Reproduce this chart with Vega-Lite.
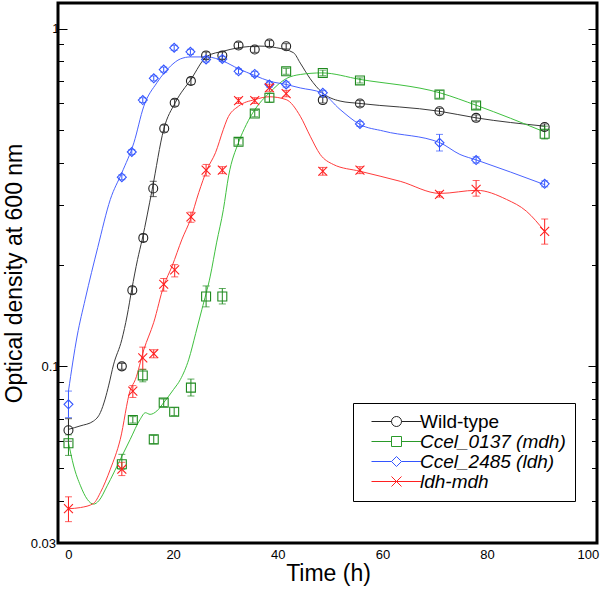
{
  "$schema": "https://vega.github.io/schema/vega-lite/v6.json",
  "width": 539,
  "height": 540,
  "autosize": "none",
  "padding": {"left": 58, "top": 3, "right": 3, "bottom": 48},
  "config": {
    "view": {"stroke": "black", "strokeWidth": 3},
    "font": "Liberation Sans",
    "axis": {"grid": false}
  },
  "datasets": {
    "pts": [
      {"s": "Wild-type", "t": 0, "od": 0.0647, "lo": 0.060, "hi": 0.070},
      {"s": "Wild-type", "t": 10.2, "od": 0.100, "lo": 0.098, "hi": 0.102},
      {"s": "Wild-type", "t": 12.2, "od": 0.168, "lo": 0.164, "hi": 0.172},
      {"s": "Wild-type", "t": 14.3, "od": 0.240, "lo": 0.234, "hi": 0.246},
      {"s": "Wild-type", "t": 16.2, "od": 0.336, "lo": 0.318, "hi": 0.353},
      {"s": "Wild-type", "t": 18.3, "od": 0.506, "lo": 0.494, "hi": 0.518},
      {"s": "Wild-type", "t": 20.3, "od": 0.603, "lo": 0.589, "hi": 0.617},
      {"s": "Wild-type", "t": 23.4, "od": 0.699, "lo": 0.683, "hi": 0.715},
      {"s": "Wild-type", "t": 26.3, "od": 0.832, "lo": 0.812, "hi": 0.852},
      {"s": "Wild-type", "t": 29.4, "od": 0.832, "lo": 0.812, "hi": 0.852},
      {"s": "Wild-type", "t": 32.5, "od": 0.891, "lo": 0.872, "hi": 0.910},
      {"s": "Wild-type", "t": 35.6, "od": 0.867, "lo": 0.850, "hi": 0.884},
      {"s": "Wild-type", "t": 38.4, "od": 0.903, "lo": 0.885, "hi": 0.921},
      {"s": "Wild-type", "t": 41.6, "od": 0.886, "lo": 0.870, "hi": 0.902},
      {"s": "Wild-type", "t": 48.6, "od": 0.614, "lo": 0.602, "hi": 0.626},
      {"s": "Wild-type", "t": 55.7, "od": 0.600, "lo": 0.588, "hi": 0.612},
      {"s": "Wild-type", "t": 70.9, "od": 0.569, "lo": 0.558, "hi": 0.580},
      {"s": "Wild-type", "t": 77.9, "od": 0.544, "lo": 0.533, "hi": 0.555},
      {"s": "Wild-type", "t": 91.0, "od": 0.511, "lo": 0.500, "hi": 0.522},
      {"s": "Ccel_0137 (mdh)", "t": 0, "od": 0.0592, "lo": 0.0545, "hi": 0.0627},
      {"s": "Ccel_0137 (mdh)", "t": 10.2, "od": 0.0513, "lo": 0.0496, "hi": 0.0549},
      {"s": "Ccel_0137 (mdh)", "t": 12.3, "od": 0.0694, "lo": 0.0680, "hi": 0.0710},
      {"s": "Ccel_0137 (mdh)", "t": 14.2, "od": 0.094, "lo": 0.090, "hi": 0.098},
      {"s": "Ccel_0137 (mdh)", "t": 16.3, "od": 0.0608, "lo": 0.0590, "hi": 0.0625},
      {"s": "Ccel_0137 (mdh)", "t": 18.2, "od": 0.0781, "lo": 0.0760, "hi": 0.0800},
      {"s": "Ccel_0137 (mdh)", "t": 20.2, "od": 0.0734, "lo": 0.0715, "hi": 0.0755},
      {"s": "Ccel_0137 (mdh)", "t": 23.4, "od": 0.0865, "lo": 0.0817, "hi": 0.0917},
      {"s": "Ccel_0137 (mdh)", "t": 26.3, "od": 0.161, "lo": 0.150, "hi": 0.173},
      {"s": "Ccel_0137 (mdh)", "t": 29.4, "od": 0.161, "lo": 0.153, "hi": 0.170},
      {"s": "Ccel_0137 (mdh)", "t": 32.5, "od": 0.462, "lo": 0.452, "hi": 0.472},
      {"s": "Ccel_0137 (mdh)", "t": 35.6, "od": 0.560, "lo": 0.548, "hi": 0.572},
      {"s": "Ccel_0137 (mdh)", "t": 38.4, "od": 0.624, "lo": 0.605, "hi": 0.643},
      {"s": "Ccel_0137 (mdh)", "t": 41.6, "od": 0.747, "lo": 0.732, "hi": 0.762},
      {"s": "Ccel_0137 (mdh)", "t": 48.6, "od": 0.739, "lo": 0.725, "hi": 0.753},
      {"s": "Ccel_0137 (mdh)", "t": 55.7, "od": 0.702, "lo": 0.690, "hi": 0.714},
      {"s": "Ccel_0137 (mdh)", "t": 70.9, "od": 0.638, "lo": 0.622, "hi": 0.655},
      {"s": "Ccel_0137 (mdh)", "t": 77.9, "od": 0.592, "lo": 0.578, "hi": 0.606},
      {"s": "Ccel_0137 (mdh)", "t": 91.0, "od": 0.488, "lo": 0.471, "hi": 0.514},
      {"s": "Ccel_2485 (ldh)", "t": 0, "od": 0.0772, "lo": 0.0705, "hi": 0.0845},
      {"s": "Ccel_2485 (ldh)", "t": 10.2, "od": 0.363, "lo": 0.357, "hi": 0.369},
      {"s": "Ccel_2485 (ldh)", "t": 12.1, "od": 0.431, "lo": 0.424, "hi": 0.438},
      {"s": "Ccel_2485 (ldh)", "t": 14.2, "od": 0.614, "lo": 0.604, "hi": 0.624},
      {"s": "Ccel_2485 (ldh)", "t": 16.3, "od": 0.712, "lo": 0.700, "hi": 0.724},
      {"s": "Ccel_2485 (ldh)", "t": 18.2, "od": 0.756, "lo": 0.743, "hi": 0.769},
      {"s": "Ccel_2485 (ldh)", "t": 20.2, "od": 0.877, "lo": 0.862, "hi": 0.892},
      {"s": "Ccel_2485 (ldh)", "t": 23.3, "od": 0.853, "lo": 0.838, "hi": 0.868},
      {"s": "Ccel_2485 (ldh)", "t": 26.3, "od": 0.810, "lo": 0.796, "hi": 0.824},
      {"s": "Ccel_2485 (ldh)", "t": 29.4, "od": 0.813, "lo": 0.799, "hi": 0.827},
      {"s": "Ccel_2485 (ldh)", "t": 32.5, "od": 0.747, "lo": 0.734, "hi": 0.760},
      {"s": "Ccel_2485 (ldh)", "t": 35.6, "od": 0.734, "lo": 0.721, "hi": 0.747},
      {"s": "Ccel_2485 (ldh)", "t": 38.4, "od": 0.683, "lo": 0.671, "hi": 0.695},
      {"s": "Ccel_2485 (ldh)", "t": 41.6, "od": 0.683, "lo": 0.671, "hi": 0.695},
      {"s": "Ccel_2485 (ldh)", "t": 48.6, "od": 0.645, "lo": 0.634, "hi": 0.656},
      {"s": "Ccel_2485 (ldh)", "t": 55.7, "od": 0.522, "lo": 0.513, "hi": 0.531},
      {"s": "Ccel_2485 (ldh)", "t": 70.9, "od": 0.459, "lo": 0.434, "hi": 0.486},
      {"s": "Ccel_2485 (ldh)", "t": 77.9, "od": 0.408, "lo": 0.400, "hi": 0.417},
      {"s": "Ccel_2485 (ldh)", "t": 91.0, "od": 0.347, "lo": 0.340, "hi": 0.354},
      {"s": "ldh-mdh", "t": 0, "od": 0.0379, "lo": 0.0347, "hi": 0.0411},
      {"s": "ldh-mdh", "t": 10.2, "od": 0.0496, "lo": 0.0475, "hi": 0.0520},
      {"s": "ldh-mdh", "t": 12.3, "od": 0.0845, "lo": 0.0809, "hi": 0.0877},
      {"s": "ldh-mdh", "t": 14.2, "od": 0.106, "lo": 0.098, "hi": 0.114},
      {"s": "ldh-mdh", "t": 16.3, "od": 0.109, "lo": 0.106, "hi": 0.112},
      {"s": "ldh-mdh", "t": 18.2, "od": 0.175, "lo": 0.167, "hi": 0.182},
      {"s": "ldh-mdh", "t": 20.3, "od": 0.193, "lo": 0.184, "hi": 0.200},
      {"s": "ldh-mdh", "t": 23.4, "od": 0.277, "lo": 0.267, "hi": 0.286},
      {"s": "ldh-mdh", "t": 26.3, "od": 0.381, "lo": 0.366, "hi": 0.396},
      {"s": "ldh-mdh", "t": 29.4, "od": 0.381, "lo": 0.372, "hi": 0.390},
      {"s": "ldh-mdh", "t": 32.5, "od": 0.612, "lo": 0.600, "hi": 0.624},
      {"s": "ldh-mdh", "t": 35.6, "od": 0.612, "lo": 0.600, "hi": 0.624},
      {"s": "ldh-mdh", "t": 38.4, "od": 0.668, "lo": 0.652, "hi": 0.684},
      {"s": "ldh-mdh", "t": 41.6, "od": 0.642, "lo": 0.628, "hi": 0.656},
      {"s": "ldh-mdh", "t": 48.6, "od": 0.378, "lo": 0.368, "hi": 0.388},
      {"s": "ldh-mdh", "t": 55.7, "od": 0.381, "lo": 0.372, "hi": 0.390},
      {"s": "ldh-mdh", "t": 70.9, "od": 0.323, "lo": 0.317, "hi": 0.329},
      {"s": "ldh-mdh", "t": 77.9, "od": 0.334, "lo": 0.319, "hi": 0.355},
      {"s": "ldh-mdh", "t": 91.0, "od": 0.251, "lo": 0.230, "hi": 0.273}
    ],
    "curve": [
      {"s": "Wild-type", "t": 0, "od": 0.0651},
      {"s": "Wild-type", "t": 2.2, "od": 0.0666},
      {"s": "Wild-type", "t": 4.8, "od": 0.0689},
      {"s": "Wild-type", "t": 6.1, "od": 0.073},
      {"s": "Wild-type", "t": 7.0, "od": 0.080},
      {"s": "Wild-type", "t": 7.7, "od": 0.088},
      {"s": "Wild-type", "t": 8.6, "od": 0.101},
      {"s": "Wild-type", "t": 10.2, "od": 0.120},
      {"s": "Wild-type", "t": 11.2, "od": 0.141},
      {"s": "Wild-type", "t": 12.1, "od": 0.169},
      {"s": "Wild-type", "t": 13.2, "od": 0.207},
      {"s": "Wild-type", "t": 14.1, "od": 0.238},
      {"s": "Wild-type", "t": 16.0, "od": 0.334},
      {"s": "Wild-type", "t": 18.2, "od": 0.503},
      {"s": "Wild-type", "t": 20.4, "od": 0.603},
      {"s": "Wild-type", "t": 23.4, "od": 0.707},
      {"s": "Wild-type", "t": 26.5, "od": 0.828},
      {"s": "Wild-type", "t": 29.6, "od": 0.857},
      {"s": "Wild-type", "t": 32.5, "od": 0.877},
      {"s": "Wild-type", "t": 36.6, "od": 0.887},
      {"s": "Wild-type", "t": 39.8, "od": 0.877},
      {"s": "Wild-type", "t": 43.0, "od": 0.848},
      {"s": "Wild-type", "t": 44.3, "od": 0.79},
      {"s": "Wild-type", "t": 46.2, "od": 0.71},
      {"s": "Wild-type", "t": 48.4, "od": 0.648},
      {"s": "Wild-type", "t": 51.9, "od": 0.610},
      {"s": "Wild-type", "t": 55.7, "od": 0.600},
      {"s": "Wild-type", "t": 70.9, "od": 0.569},
      {"s": "Wild-type", "t": 77.9, "od": 0.544},
      {"s": "Wild-type", "t": 91.0, "od": 0.514},
      {"s": "Ccel_0137 (mdh)", "t": 0, "od": 0.0595},
      {"s": "Ccel_0137 (mdh)", "t": 1.0, "od": 0.0507},
      {"s": "Ccel_0137 (mdh)", "t": 2.3, "od": 0.0443},
      {"s": "Ccel_0137 (mdh)", "t": 3.6, "od": 0.0404},
      {"s": "Ccel_0137 (mdh)", "t": 4.8, "od": 0.0391},
      {"s": "Ccel_0137 (mdh)", "t": 5.8, "od": 0.0400},
      {"s": "Ccel_0137 (mdh)", "t": 7.4, "od": 0.0443},
      {"s": "Ccel_0137 (mdh)", "t": 9.9, "od": 0.0530},
      {"s": "Ccel_0137 (mdh)", "t": 11.8, "od": 0.0608},
      {"s": "Ccel_0137 (mdh)", "t": 13.7, "od": 0.0697},
      {"s": "Ccel_0137 (mdh)", "t": 14.7, "od": 0.0729},
      {"s": "Ccel_0137 (mdh)", "t": 15.6, "od": 0.0721},
      {"s": "Ccel_0137 (mdh)", "t": 16.9, "od": 0.0738},
      {"s": "Ccel_0137 (mdh)", "t": 18.2, "od": 0.0781},
      {"s": "Ccel_0137 (mdh)", "t": 20.1, "od": 0.0855},
      {"s": "Ccel_0137 (mdh)", "t": 21.4, "od": 0.0915},
      {"s": "Ccel_0137 (mdh)", "t": 23.0, "od": 0.105},
      {"s": "Ccel_0137 (mdh)", "t": 24.3, "od": 0.125},
      {"s": "Ccel_0137 (mdh)", "t": 25.5, "od": 0.1475},
      {"s": "Ccel_0137 (mdh)", "t": 27.1, "od": 0.185},
      {"s": "Ccel_0137 (mdh)", "t": 28.3, "od": 0.232},
      {"s": "Ccel_0137 (mdh)", "t": 29.6, "od": 0.291},
      {"s": "Ccel_0137 (mdh)", "t": 30.6, "od": 0.366},
      {"s": "Ccel_0137 (mdh)", "t": 32.5, "od": 0.46},
      {"s": "Ccel_0137 (mdh)", "t": 34.0, "od": 0.52},
      {"s": "Ccel_0137 (mdh)", "t": 35.6, "od": 0.575},
      {"s": "Ccel_0137 (mdh)", "t": 38.4, "od": 0.645},
      {"s": "Ccel_0137 (mdh)", "t": 41.7, "od": 0.712},
      {"s": "Ccel_0137 (mdh)", "t": 44.3, "od": 0.731},
      {"s": "Ccel_0137 (mdh)", "t": 48.4, "od": 0.739},
      {"s": "Ccel_0137 (mdh)", "t": 55.7, "od": 0.707},
      {"s": "Ccel_0137 (mdh)", "t": 71.0, "od": 0.645},
      {"s": "Ccel_0137 (mdh)", "t": 78.0, "od": 0.592},
      {"s": "Ccel_0137 (mdh)", "t": 91.0, "od": 0.494},
      {"s": "Ccel_2485 (ldh)", "t": 0, "od": 0.0845},
      {"s": "Ccel_2485 (ldh)", "t": 1.66, "od": 0.123},
      {"s": "Ccel_2485 (ldh)", "t": 3.2, "od": 0.158},
      {"s": "Ccel_2485 (ldh)", "t": 5.6, "od": 0.225},
      {"s": "Ccel_2485 (ldh)", "t": 8.0, "od": 0.312},
      {"s": "Ccel_2485 (ldh)", "t": 10.2, "od": 0.374},
      {"s": "Ccel_2485 (ldh)", "t": 12.5, "od": 0.459},
      {"s": "Ccel_2485 (ldh)", "t": 14.4, "od": 0.589},
      {"s": "Ccel_2485 (ldh)", "t": 16.9, "od": 0.691},
      {"s": "Ccel_2485 (ldh)", "t": 19.5, "od": 0.774},
      {"s": "Ccel_2485 (ldh)", "t": 21.4, "od": 0.813},
      {"s": "Ccel_2485 (ldh)", "t": 23.3, "od": 0.824},
      {"s": "Ccel_2485 (ldh)", "t": 26.5, "od": 0.824},
      {"s": "Ccel_2485 (ldh)", "t": 29.6, "od": 0.800},
      {"s": "Ccel_2485 (ldh)", "t": 32.5, "od": 0.760},
      {"s": "Ccel_2485 (ldh)", "t": 35.6, "od": 0.726},
      {"s": "Ccel_2485 (ldh)", "t": 38.5, "od": 0.698},
      {"s": "Ccel_2485 (ldh)", "t": 41.6, "od": 0.683},
      {"s": "Ccel_2485 (ldh)", "t": 44.3, "od": 0.667},
      {"s": "Ccel_2485 (ldh)", "t": 48.4, "od": 0.645},
      {"s": "Ccel_2485 (ldh)", "t": 51.9, "od": 0.576},
      {"s": "Ccel_2485 (ldh)", "t": 55.7, "od": 0.520},
      {"s": "Ccel_2485 (ldh)", "t": 60.2, "od": 0.497},
      {"s": "Ccel_2485 (ldh)", "t": 71.0, "od": 0.459},
      {"s": "Ccel_2485 (ldh)", "t": 74.8, "od": 0.424},
      {"s": "Ccel_2485 (ldh)", "t": 78.0, "od": 0.408},
      {"s": "Ccel_2485 (ldh)", "t": 91.0, "od": 0.345},
      {"s": "ldh-mdh", "t": 0, "od": 0.0379},
      {"s": "ldh-mdh", "t": 2.3, "od": 0.0382},
      {"s": "ldh-mdh", "t": 4.8, "od": 0.0393},
      {"s": "ldh-mdh", "t": 6.1, "od": 0.0423},
      {"s": "ldh-mdh", "t": 8.0, "od": 0.0496},
      {"s": "ldh-mdh", "t": 9.9, "od": 0.0608},
      {"s": "ldh-mdh", "t": 11.8, "od": 0.085},
      {"s": "ldh-mdh", "t": 12.8, "od": 0.0915},
      {"s": "ldh-mdh", "t": 14.4, "od": 0.112},
      {"s": "ldh-mdh", "t": 16.3, "od": 0.135},
      {"s": "ldh-mdh", "t": 18.2, "od": 0.173},
      {"s": "ldh-mdh", "t": 19.8, "od": 0.198},
      {"s": "ldh-mdh", "t": 21.7, "od": 0.238},
      {"s": "ldh-mdh", "t": 23.3, "od": 0.272},
      {"s": "ldh-mdh", "t": 24.9, "od": 0.327},
      {"s": "ldh-mdh", "t": 26.5, "od": 0.383},
      {"s": "ldh-mdh", "t": 28.1, "od": 0.429},
      {"s": "ldh-mdh", "t": 29.6, "od": 0.503},
      {"s": "ldh-mdh", "t": 30.3, "od": 0.538},
      {"s": "ldh-mdh", "t": 32.5, "od": 0.589},
      {"s": "ldh-mdh", "t": 35.6, "od": 0.616},
      {"s": "ldh-mdh", "t": 38.4, "od": 0.628},
      {"s": "ldh-mdh", "t": 41.6, "od": 0.616},
      {"s": "ldh-mdh", "t": 44.3, "od": 0.55},
      {"s": "ldh-mdh", "t": 46.2, "od": 0.48},
      {"s": "ldh-mdh", "t": 48.1, "od": 0.424},
      {"s": "ldh-mdh", "t": 50.6, "od": 0.396},
      {"s": "ldh-mdh", "t": 55.7, "od": 0.378},
      {"s": "ldh-mdh", "t": 63.4, "od": 0.353},
      {"s": "ldh-mdh", "t": 71.0, "od": 0.325},
      {"s": "ldh-mdh", "t": 78.0, "od": 0.332},
      {"s": "ldh-mdh", "t": 83.7, "od": 0.312},
      {"s": "ldh-mdh", "t": 87.5, "od": 0.288},
      {"s": "ldh-mdh", "t": 91.0, "od": 0.251}
    ]
  },
  "layer": [
    {
      "data": {"name": "curve"},
      "mark": {"type": "line", "strokeWidth": 1, "interpolate": "monotone"},
      "encoding": {
        "x": {"field": "t", "type": "quantitative", "scale": {"domain": [-2, 101], "nice": false, "zero": false},
          "axis": {"values": [0, 20, 40, 60, 80, 100], "ticks": false, "domain": false, "grid": false, "labelFontSize": 13, "labelPadding": 5, "labelColor": "black", "labelFlush": false,
            "labelOffset": {"condition": {"test": "datum.value == 100", "value": -4}, "value": 0},
            "title": "Time (h)", "titleFontSize": 23, "titleFontWeight": "normal", "titleColor": "black", "titleBaseline": "alphabetic", "titleY": 37, "titleX": 270}},
        "y": {"field": "od", "type": "quantitative", "scale": {"type": "log", "domain": [0.03, 1.19], "nice": false},
          "axis": {"orient": "left", "values": [0.03, 0.04, 0.05, 0.06, 0.07, 0.08, 0.09, 0.1, 0.2, 0.3, 0.4, 0.5, 0.6, 0.7, 0.8, 0.9, 1],
            "labelExpr": "datum.value == 1 ? '1' : datum.value == 0.1 ? '0.1' : datum.value == 0.03 ? '0.03' : ''",
            "domain": false, "grid": false, "ticks": true,
            "tickSize": {"condition": {"test": "datum.value == 0.1 || datum.value == 1", "value": -9}, "value": -5.5},
            "tickColor": "black", "tickWidth": 1, "labelFontSize": 13, "labelColor": "black", "labelPadding": 8, "labelFlush": false,
            "title": "Optical density at 600 nm", "titleFontSize": 23, "titleFontWeight": "normal", "titleColor": "black",
            "titleAngle": -90, "titleBaseline": "alphabetic", "titleAlign": "center", "titleX": -37, "titleY": 270}},
        "color": {"field": "s", "type": "nominal", "legend": null,
          "scale": {"domain": ["Wild-type", "Ccel_0137 (mdh)", "Ccel_2485 (ldh)", "ldh-mdh"], "range": ["#3a3a3a", "#3fc03f", "#4a63ff", "#ff3b3b"]}},
        "detail": {"field": "s"}
      }
    },
    {
      "data": {"name": "pts"},
      "mark": {"type": "errorbar", "ticks": {"size": 7}, "thickness": 1},
      "encoding": {
        "x": {"field": "t", "type": "quantitative", "scale": {"domain": [-2, 101], "nice": false, "zero": false}},
        "y": {"field": "lo", "type": "quantitative", "scale": {"type": "log", "domain": [0.03, 1.19], "nice": false}, "axis": null},
        "y2": {"field": "hi"},
        "color": {"field": "s", "type": "nominal", "legend": null,
          "scale": {"domain": ["Wild-type", "Ccel_0137 (mdh)", "Ccel_2485 (ldh)", "ldh-mdh"], "range": ["#222222", "#1f8a1f", "#3355ff", "#ff2020"]}}
      }
    },
    {
      "data": {"name": "pts"},
      "mark": {"type": "point", "filled": false, "size": 80, "strokeWidth": 1.1, "opacity": 1},
      "encoding": {
        "x": {"field": "t", "type": "quantitative", "scale": {"domain": [-2, 101], "nice": false, "zero": false}},
        "y": {"field": "od", "type": "quantitative", "scale": {"type": "log", "domain": [0.03, 1.19], "nice": false}, "axis": null},
        "color": {"field": "s", "type": "nominal", "legend": null,
          "scale": {"domain": ["Wild-type", "Ccel_0137 (mdh)", "Ccel_2485 (ldh)", "ldh-mdh"], "range": ["#222222", "#1f8a1f", "#3355ff", "#ff2020"]}},
        "shape": {"field": "s", "type": "nominal", "legend": null,
          "scale": {"domain": ["Wild-type", "Ccel_0137 (mdh)", "Ccel_2485 (ldh)", "ldh-mdh"], "range": ["circle", "square", "diamond", "M-1,-1L1,1M-1,1L1,-1"]}}
      }
    },
    {
      "data": {"name": "pts"},
      "mark": {"type": "point", "filled": false, "size": 100, "opacity": 0},
      "encoding": {
        "x": {"field": "t", "type": "quantitative", "scale": {"domain": [-2, 101], "nice": false, "zero": false}},
        "y": {"field": "od", "type": "quantitative", "scale": {"type": "log", "domain": [0.03, 1.19], "nice": false},
          "axis": {"orient": "right", "values": [0.03, 0.04, 0.05, 0.06, 0.07, 0.08, 0.09, 0.1, 0.2, 0.3, 0.4, 0.5, 0.6, 0.7, 0.8, 0.9, 1],
            "labels": false, "domain": false, "grid": false, "ticks": true, "title": null,
            "tickSize": {"condition": {"test": "datum.value == 0.1 || datum.value == 1", "value": -9}, "value": -5.5},
            "tickColor": "black", "tickWidth": 1}},
        "color": {"field": "s", "type": "nominal",
          "scale": {"domain": ["Wild-type", "Ccel_0137 (mdh)", "Ccel_2485 (ldh)", "ldh-mdh"], "range": ["#222222", "#2a9a2a", "#3355ff", "#ff2020"]},
          "legend": {"orient": "none", "legendX": 295, "legendY": 400, "title": null, "padding": 9,
            "strokeColor": "black", "fillColor": "white", "symbolSize": 100, "symbolStrokeWidth": 1, "symbolOpacity": 1, "symbolFillColor": "transparent",
            "symbolOffset": 25, "labelOffset": 14, "labelFontSize": 19, "labelColor": "black", "labelLimit": 300, "rowPadding": 0,
            "labelFontStyle": {"expr": "datum.label == 'Wild-type' ? 'normal' : 'italic'"}}},
        "shape": {"field": "s", "type": "nominal",
          "scale": {"domain": ["Wild-type", "Ccel_0137 (mdh)", "Ccel_2485 (ldh)", "ldh-mdh"],
            "range": ["M-5,0L-1,0M1,0L5,0M1,0A1,1,0,1,1,-1,0A1,1,0,1,1,1,0", "M-5,0L-1,0M1,0L5,0M-1,-1L1,-1L1,1L-1,1Z", "M-5,0L-1,0M1,0L5,0M-1,0L0,-1L1,0L0,1Z", "M-5,0L5,0M-1,-1L1,1M-1,1L1,-1"]},
          "legend": {"orient": "none", "legendX": 295, "legendY": 400, "title": null, "padding": 9,
            "strokeColor": "black", "fillColor": "white", "symbolSize": 100, "symbolStrokeWidth": 1, "symbolOpacity": 1, "symbolFillColor": "transparent",
            "symbolOffset": 25, "labelOffset": 14, "labelFontSize": 19, "labelColor": "black", "labelLimit": 300, "rowPadding": 0,
            "labelFontStyle": {"expr": "datum.label == 'Wild-type' ? 'normal' : 'italic'"}}}
      }
    }
  ],
  "resolve": {"scale": {"color": "independent", "shape": "independent"}, "axis": {"y": "independent"}}
}
